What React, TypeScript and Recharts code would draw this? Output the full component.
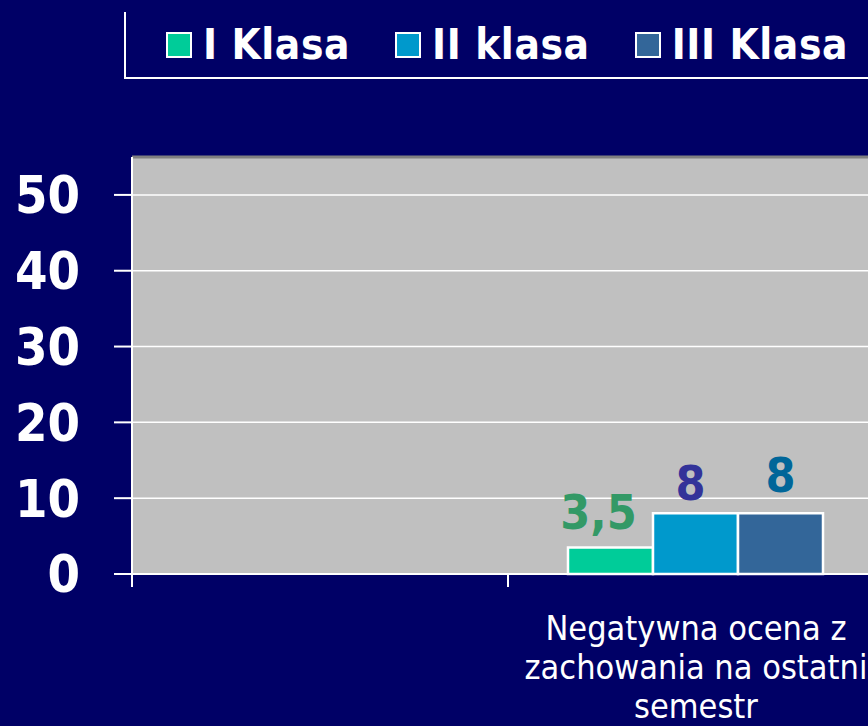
import React from "react";
import { BarChart, Bar, XAxis, YAxis, CartesianGrid, Legend, LabelList, ReferenceLine } from "recharts";

const categories = ["", "Negatywna ocena z\nzachowania na ostatni\nsemestr"];
const klasaI = [null, 3.5];
const klasaII = [null, 8];
const klasaIII = [null, 8];
const seriesNames = ["I Klasa", "II klasa", "III Klasa"];
const yTicks = [0, 10, 20, 30, 40, 50];

const data = categories.map((c, i) => ({ name: c, k1: klasaI[i], k2: klasaII[i], k3: klasaIII[i] }));

const series = [
  { key: "k1", name: seriesNames[0], fill: "#00CC99", label: "#339966", offset: 18, dx: -12 },
  { key: "k2", name: seriesNames[1], fill: "#0099CC", label: "#333399", offset: 13, dx: -5 },
  { key: "k3", name: seriesNames[2], fill: "#336699", label: "#006699", offset: 21, dx: 0 },
];

const BOLD = "'DejaVu Sans Condensed', 'DejaVu Sans', sans-serif";

function CategoryTick(props: any) {
  const { x, y, payload } = props;
  const left = x - (payload.offset || 0);
  const lines = String(payload.value).split("\n").filter((l) => l);
  return (
    <g>
      <line x1={left} x2={left} y1={y} y2={y + 13} stroke="#fff" strokeWidth={2} />
      <text x={x} y={y} textAnchor="middle" fill="#fff" fontSize={34} fontFamily={BOLD} style={{ fontStretch: "condensed" }}>
        {lines.map((l, i) => (
          <tspan key={i} x={x} y={y + 66 + i * 39}>
            {l}
          </tspan>
        ))}
      </text>
    </g>
  );
}

function LegendBox() {
  return (
    <div
      style={{
        width: 775,
        height: 67,
        borderLeft: "2px solid #fff",
        borderBottom: "2px solid #fff",
        display: "flex",
        alignItems: "center",
        paddingLeft: 40,
        boxSizing: "border-box",
      }}
    >
      {series.map((s) => (
        <div key={s.key} style={{ display: "flex", alignItems: "center", marginRight: 45 }}>
          <span style={{ width: 22, height: 22, background: s.fill, border: "2px solid #fff", marginRight: 11 }} />
          <span
            style={{
              color: "#fff",
              fontFamily: BOLD,
              fontStretch: "condensed",
              fontWeight: "bold",
              fontSize: 42,
              lineHeight: "44px",
              letterSpacing: 0.6,
            }}
          >
            {s.name}
          </span>
        </div>
      ))}
    </div>
  );
}

export default function App() {
  return (
    <div style={{ position: "absolute", left: 0, top: 0, width: 868, height: 726, overflow: "hidden", background: "#000066" }}>
      <BarChart width={900} height={726} data={data} margin={{ top: 157, right: 16, left: 0, bottom: 0 }} barCategoryGap={60} barGap={0}>
        <CartesianGrid vertical={false} stroke="#fff" strokeWidth={1.5} fill="#C0C0C0" fillOpacity={1} />
        <ReferenceLine y={55} stroke="#808080" strokeWidth={3} />
        <XAxis
          dataKey="name"
          axisLine={{ stroke: "#fff", strokeWidth: 2 }}
          tickLine={false}
          tickSize={0}
          tickMargin={0}
          height={152}
          interval={0}
          tick={<CategoryTick />}
        />
        <YAxis
          width={132}
          domain={[0, 55]}
          ticks={yTicks}
          axisLine={{ stroke: "#fff", strokeWidth: 2 }}
          tickLine={{ stroke: "#fff", strokeWidth: 2 }}
          tickSize={18}
          tickMargin={34}
          tick={{ fill: "#fff", fontSize: 52, fontWeight: "bold", fontFamily: BOLD, style: { fontStretch: "condensed" } } as any}
        />
        <Legend layout="vertical" align="center" verticalAlign="middle" wrapperStyle={{ top: 12, left: 124, width: 775 }} content={<LegendBox />} />
        {series.map((s) => (
          <Bar key={s.key} dataKey={s.key} name={s.name} fill={s.fill} stroke="#fff" strokeWidth={2.5} isAnimationActive={false}>
            <LabelList
              dataKey={s.key}
              position="top"
              offset={s.offset}
              dx={s.dx}
              fill={s.label}
              fontSize={48}
              fontWeight="bold"
              fontFamily={BOLD}
              style={{ fontStretch: "condensed" }}
              formatter={(v: any) => (v == null ? "" : String(v).replace(".", ","))}
            />
          </Bar>
        ))}
      </BarChart>
    </div>
  );
}
